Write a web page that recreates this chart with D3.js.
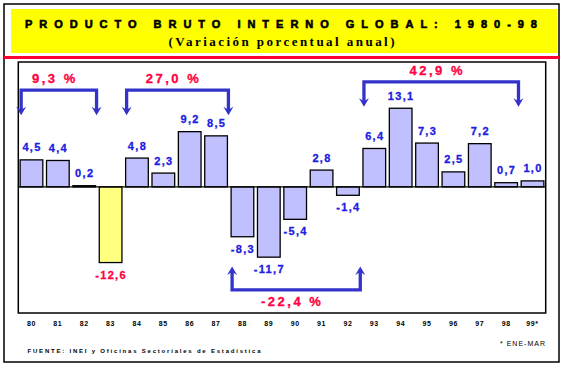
<!DOCTYPE html>
<html><head><meta charset="utf-8">
<script src="https://cdn.jsdelivr.net/npm/d3@7"></script>
<style>body{margin:0;background:#fff} svg{display:block}</style>
</head><body>
<script>
const years = ["80","81","82","83","84","85","86","87","88","89","90","91","92","93","94","95","96","97","98","99"];
const growth = [4.5,4.4,0.2,-12.6,4.8,2.3,9.2,8.5,-8.3,-11.7,-5.4,2.8,-1.4,6.4,13.1,7.3,2.5,7.2,0.7,1.0];
const tickLabels = ["80","81","82","83","84","85","86","87","88","89","90","91","92","93","94","95","96","97","98","99*"];
const highlightYears = ["83"];
const periodStart = ["80","84","93","88"];
const periodEnd = ["82","87","98","92"];
const periodGrowth = [9.3, 27.0, 42.9, -22.4];
const titleText = "PRODUCTO BRUTO INTERNO GLOBAL: 1980-98";
const subtitleText = "(Variación porcentual anual)";
const sourceText = "FUENTE: INEI y Oficinas Sectoriales de Estadística";
const noteText = "* ENE-MAR";

const W = 562, H = 366;
const BLUE_TXT = "#2020e0", ARROW = "#3333cc", RED = "#ff0040";
const svg = d3.select("body").append("svg").attr("width", W).attr("height", H);
const plot = {l: 18.3, r: 545.7, t: 62, b: 313};

const x = d3.scaleBand().domain(years).range([plot.l, plot.r]).paddingInner(0.14).paddingOuter(0.07);
const y = d3.scaleLinear().domain([-21, 20.8]).range([plot.b, plot.t]);
const fmt = v => v.toFixed(1).replace(".", ",");

// outer frame
svg.append("rect").attr("x", 4).attr("y", 4).attr("width", 555).attr("height", 358)
  .attr("fill", "#fff").attr("stroke", "#000").attr("stroke-width", 1.5);
// title box
svg.append("rect").attr("x", 11).attr("y", 9).attr("width", 546).attr("height", 44).attr("fill", "#ffff00");
svg.append("text").attr("x", 25).attr("y", 27.5).attr("textLength", 512).attr("lengthAdjust", "spacing")
  .style("font", "bold 11px 'Liberation Sans', Arial, sans-serif").attr("fill", "#000")
  .attr("stroke", "#000").attr("stroke-width", 0.6).text(titleText);
svg.append("text").attr("x", 168.5).attr("y", 46).attr("textLength", 226).attr("lengthAdjust", "spacing")
  .style("font", "bold 13px 'Liberation Serif', 'Times New Roman', serif").attr("fill", "#000").text(subtitleText);
// red rule
svg.append("rect").attr("x", 4).attr("y", 56).attr("width", 555).attr("height", 3).attr("fill", "#ff0033");

// plot frame
svg.append("rect").attr("x", plot.l).attr("y", plot.t).attr("width", plot.r - plot.l).attr("height", plot.b - plot.t)
  .attr("fill", "#fff").attr("stroke", "#000").attr("stroke-width", 1.5);

const data = years.map((yr, i) => ({yr, v: growth[i], hi: highlightYears.includes(yr)}));

// bars
svg.append("g").selectAll("rect").data(data).join("rect")
  .attr("x", d => x(d.yr)).attr("width", x.bandwidth())
  .attr("y", d => y(Math.max(0, d.v))).attr("height", d => Math.abs(y(d.v) - y(0)))
  .attr("fill", d => d.hi ? "#ffff80" : "#c0c0ff")
  .attr("stroke", "#000").attr("stroke-width", 1.3);

// zero line
svg.append("line").attr("x1", plot.l).attr("x2", plot.r).attr("y1", y(0)).attr("y2", y(0))
  .attr("stroke", "#000").attr("stroke-width", 1.3);

// value labels
svg.append("g").selectAll("text").data(data).join("text")
  .attr("x", d => x(d.yr) + x.bandwidth() / 2 + 0.5)
  .attr("y", d => d.v >= 0 ? y(d.v) - 8.5 : y(d.v) + 16)
  .attr("text-anchor", "middle")
  .style("font", "bold 11px 'Liberation Sans', Arial, sans-serif")
  .style("letter-spacing", "1.3px")
  .attr("fill", d => d.hi ? RED : BLUE_TXT)
  .attr("stroke", d => d.hi ? RED : BLUE_TXT).attr("stroke-width", 0.3)
  .text(d => fmt(d.v));

// period brackets
const arrowHead = "M0,0 L-5,-8.5 L0,-5.5 L5,-8.5 Z";
periodStart.forEach((s, i) => {
  const e = periodEnd[i], g = periodGrowth[i];
  const i0 = years.indexOf(s), i1 = years.indexOf(e);
  const vals = growth.slice(i0, i1 + 1);
  const left = x(s) + 1, right = x(e) + x.bandwidth() + 1;
  const up = g >= 0;
  let lineY, tipY, labY;
  if (up) {
    lineY = y(Math.max(16.1, d3.max(vals) + 4.4));
    tipY = lineY + 25;
    labY = lineY - 7;
  } else {
    lineY = y(d3.min(vals) - 5.45);
    tipY = lineY - 23.5;
    labY = lineY + 16.5;
  }
  const stemEnd = up ? tipY - 5 : tipY + 5;
  svg.append("path")
    .attr("d", `M${left},${stemEnd} L${left},${lineY} L${right},${lineY} L${right},${stemEnd}`)
    .attr("fill", "none").attr("stroke", ARROW).attr("stroke-width", 3.3).attr("stroke-linejoin", "miter");
  [left, right].forEach(px => {
    svg.append("path").attr("d", arrowHead)
      .attr("transform", `translate(${px},${tipY}) rotate(${up ? 0 : 180})`)
      .attr("fill", ARROW);
  });
  svg.append("text")
    .attr("x", (left + right) / 2 - 4).attr("y", labY)
    .attr("text-anchor", "middle")
    .style("font", "bold 13px 'Liberation Sans', Arial, sans-serif")
    .style("letter-spacing", "2.5px")
    .attr("fill", RED).attr("stroke", RED).attr("stroke-width", 0.3)
    .text(fmt(g) + " %");
});

// x axis
const axis = d3.axisBottom(x).tickSize(0).tickPadding(8).tickFormat((d, i) => tickLabels[i]);
const ax = svg.append("g").attr("transform", `translate(0,${plot.b})`).call(axis);
ax.select(".domain").remove();
ax.selectAll("text").style("font", "bold 7px 'Liberation Sans', Arial, sans-serif").style("letter-spacing", "0.6px").attr("fill", "#000");

// footnotes
svg.append("text").attr("x", 500).attr("y", 345.5).attr("textLength", 45).attr("lengthAdjust", "spacing")
  .style("font", "7px 'Liberation Sans', Arial, sans-serif").attr("fill", "#000").text(noteText);
svg.append("text").attr("x", 27.5).attr("y", 353).attr("textLength", 233).attr("lengthAdjust", "spacing")
  .style("font", "bold 6px 'Liberation Sans', Arial, sans-serif").attr("fill", "#000").text(sourceText);
</script>
</body></html>
